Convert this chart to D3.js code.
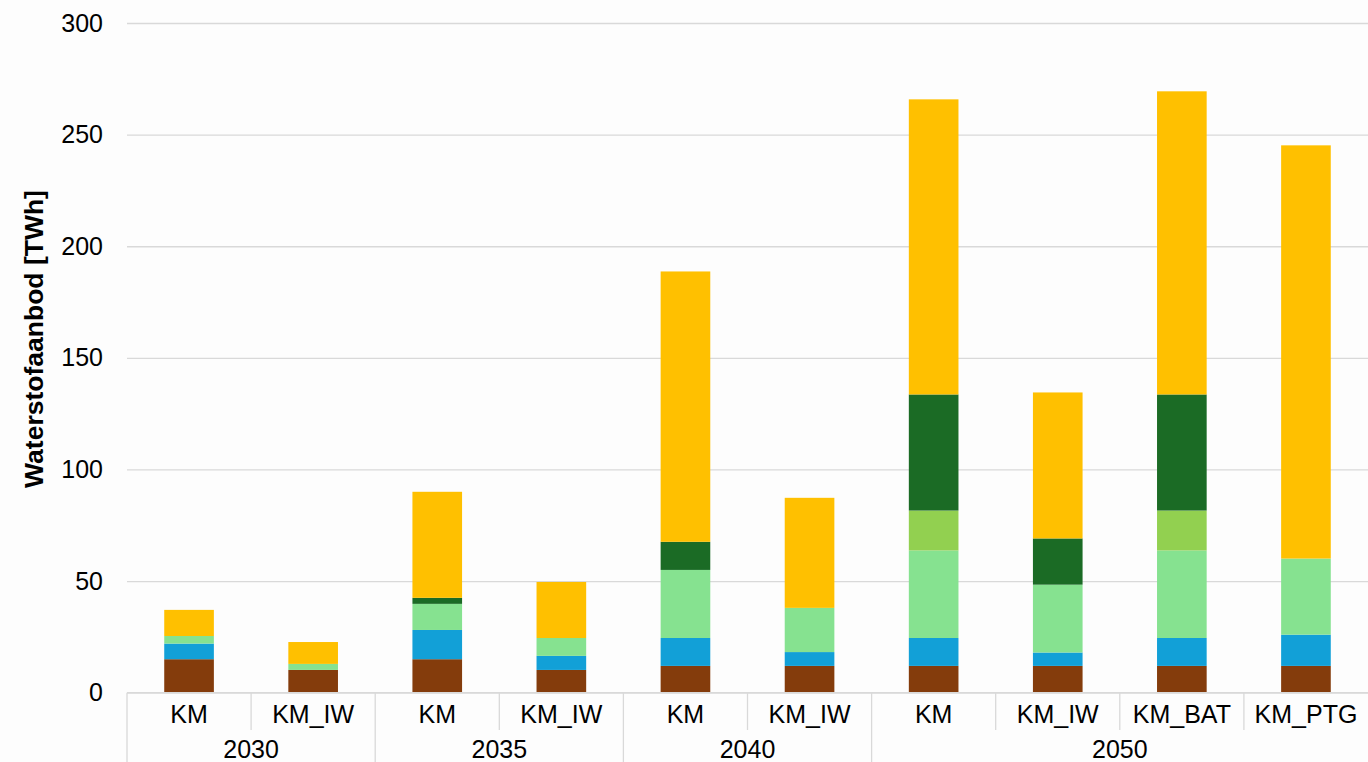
<!DOCTYPE html>
<html>
<head>
<meta charset="utf-8">
<script src="https://cdn.jsdelivr.net/npm/d3@7"></script>
<style>
  html, body { margin: 0; padding: 0; background: #fdfdfd; }
  svg { display: block; font-family: "Liberation Sans", Arial, sans-serif; }
</style>
</head>
<body>
<div id="chart"></div>
<script>
/* Waterstofaanbod per scenario — stacked bars */

// --- Data ---
const years = ["2030", "2030", "2035", "2035", "2040", "2040", "2050", "2050", "2050", "2050"];
const scenarios = ["KM", "KM_IW", "KM", "KM_IW", "KM", "KM_IW", "KM", "KM_IW", "KM_BAT", "KM_PTG"];
const seriesNames = ["bruin", "blauw", "lichtgroen", "geelgroen", "donkergroen", "geel"];
const bruin       = [15, 10.2, 15,   10.2, 12,   12,   12,   12,   12,   12];
const blauw       = [7,  0,    13.1, 6.3,  12.5, 6.2,  12.5, 6,    12.5, 14];
const lichtgroen  = [3.4, 2.7, 11.7, 8,    30.5, 19.8, 39.2, 30.4, 39.2, 34.1];
const geelgroen   = [0,  0,    0,    0,    0,    0,    17.9, 0,    17.9, 0];
const donkergroen = [0,  0,    2.7,  0,    12.6, 0,    52,   20.7, 52,   0];
const geel        = [11.7, 9.8, 47.5, 25.1, 121.1, 49.3, 132.2, 65.4, 135.8, 185.1];
const colors = ["#843c0c", "#12a0d7", "#86e290", "#92d050", "#1b6b25", "#ffc000"];
const yTicks = [0, 50, 100, 150, 200, 250, 300];

// --- Layout ---
const W = 1368, H = 762;
const plotLeft = 127, plotRight = 1368, plotTop = 23, plotBottom = 692.7;
const fontSize = "25px";

const rows = scenarios.map((s, i) => ({
  id: i, year: years[i], scenario: s,
  bruin: bruin[i], blauw: blauw[i], lichtgroen: lichtgroen[i],
  geelgroen: geelgroen[i], donkergroen: donkergroen[i], geel: geel[i],
}));

const svg = d3.select("#chart").append("svg")
  .attr("width", W)
  .attr("height", H);

const x = d3.scaleBand()
  .domain(rows.map((d) => d.id))
  .range([plotLeft, plotRight])
  .paddingInner(0.6)
  .paddingOuter(0.3);

const slot = d3.scaleBand()
  .domain(rows.map((d) => d.id))
  .range([plotLeft, plotRight]);

const y = d3.scaleLinear().domain([0, 300]).range([plotBottom, plotTop]);

// Gridlines + y tick labels
const yAxis = svg.append("g")
  .attr("transform", `translate(${plotLeft},0)`)
  .call(d3.axisLeft(y).tickValues(yTicks).tickSize(-(plotRight - plotLeft)).tickPadding(24));
yAxis.select(".domain").remove();
yAxis.selectAll(".tick line").attr("stroke", "#d9d9d9").attr("stroke-width", 1.3);
yAxis.selectAll(".tick text")
  .attr("font-size", fontSize)
  .attr("fill", "#000")
  .attr("font-family", "Liberation Sans, Arial, sans-serif");

// Y title
svg.append("text")
  .attr("transform", "translate(43,339) rotate(-90)")
  .attr("text-anchor", "middle")
  .attr("font-size", "26.5px")
  .attr("font-weight", "700")
  .attr("fill", "#000")
  .text("Waterstofaanbod [TWh]");

// Stacked bars
const stack = d3.stack().keys(seriesNames)(rows);
svg.append("g")
  .selectAll("g")
  .data(stack)
  .join("g")
  .attr("fill", (d, i) => colors[i])
  .selectAll("rect")
  .data((d) => d)
  .join("rect")
  .attr("x", (d) => x(d.data.id))
  .attr("width", x.bandwidth())
  .attr("y", (d) => y(d[1]))
  .attr("height", (d) => y(d[0]) - y(d[1]));

// --- Category axis (two levels) ---
const axisG = svg.append("g").attr("stroke", "#d9d9d9").attr("stroke-width", 1.3);
axisG.append("line")
  .attr("x1", plotLeft).attr("x2", plotRight)
  .attr("y1", plotBottom).attr("y2", plotBottom);

// year groups
const groups = d3.groups(rows, (d) => d.year).map(([year, list]) => ({
  year,
  start: slot(list[0].id),
  end: slot(list[list.length - 1].id) + slot.bandwidth(),
}));

// long dividers at group boundaries
axisG.selectAll(".yearline")
  .data(groups)
  .join("line")
  .attr("x1", (d) => d.start).attr("x2", (d) => d.start)
  .attr("y1", plotBottom).attr("y2", H);

// short dividers between scenarios inside a group
axisG.selectAll(".subline")
  .data(rows.filter((d, i) => i > 0 && years[i] === years[i - 1]))
  .join("line")
  .attr("x1", (d) => slot(d.id)).attr("x2", (d) => slot(d.id))
  .attr("y1", plotBottom).attr("y2", 730);

svg.append("g")
  .selectAll("text")
  .data(rows)
  .join("text")
  .attr("x", (d) => slot(d.id) + slot.bandwidth() / 2)
  .attr("y", 723)
  .attr("text-anchor", "middle")
  .attr("font-size", fontSize)
  .attr("fill", "#000")
  .text((d) => d.scenario);

svg.append("g")
  .selectAll("text")
  .data(groups)
  .join("text")
  .attr("x", (d) => (d.start + d.end) / 2)
  .attr("y", 758)
  .attr("text-anchor", "middle")
  .attr("font-size", fontSize)
  .attr("fill", "#000")
  .text((d) => d.year);
</script>
</body>
</html>
